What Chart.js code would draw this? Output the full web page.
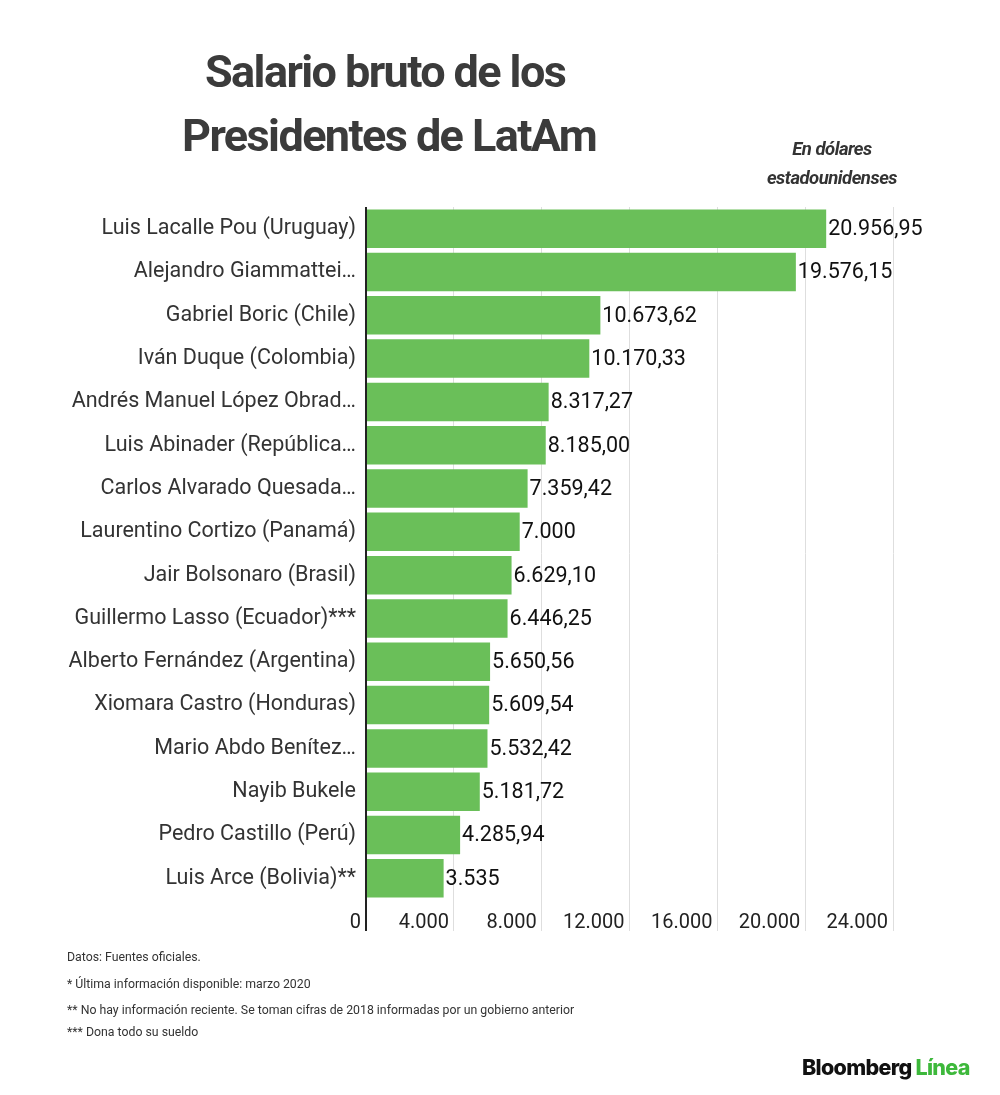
<!DOCTYPE html>
<html>
<head>
<meta charset="utf-8">
<script src="https://cdn.jsdelivr.net/npm/chart.js@4"></script>
<style>
  html, body { margin: 0; padding: 0; background: #fff; }
  body { width: 1000px; height: 1095px; position: relative; overflow: hidden; font-family: Roboto, sans-serif; }
  #wrap { position: absolute; left: 0; top: 0; width: 1000px; height: 1095px; }
  .title { position: absolute; color: #3b3b3b; font-weight: 700; font-size: 45px; letter-spacing: -1.6px; white-space: nowrap; }
  .sub { position: absolute; color: #333; font-weight: 700; font-style: italic; font-size: 18.5px; width: 220px; text-align: center; left: 722px; letter-spacing: -0.5px; }
  .note { position: absolute; left: 67px; color: #333; font-size: 12.3px; white-space: nowrap; }
  #logo { position: absolute; left: 802px; top: 1054px; font-family: Inter, sans-serif; font-weight: 800; font-size: 21.5px; letter-spacing: -0.7px; color: #111; white-space: nowrap; }
  #logo span { color: #3db83b; }
</style>
</head>
<body>
<div id="wrap"><canvas id="chart"></canvas></div>
<div class="title" style="left:205px; top:45px;">Salario bruto de los</div>
<div class="title" style="left:182px; top:109px;">Presidentes de LatAm</div>
<div class="sub" style="top:138px;">En dólares</div>
<div class="sub" style="top:167px;">estadounidenses</div>
<div class="note" style="top:950px;">Datos: Fuentes oficiales.</div>
<div class="note" style="top:977px;">* Última información disponible: marzo 2020</div>
<div class="note" style="top:1003px;">** No hay información reciente. Se toman cifras de 2018 informadas por un gobierno anterior</div>
<div class="note" style="top:1025px;">*** Dona todo su sueldo</div>
<div id="logo">Bloomberg <span>Línea</span></div>
<script>
// Data
const presidents = [
    'Luis Lacalle Pou (Uruguay)',
    'Alejandro Giammattei…',
    'Gabriel Boric (Chile)',
    'Iván Duque (Colombia)',
    'Andrés Manuel López Obrad…',
    'Luis Abinader (República…',
    'Carlos Alvarado Quesada…',
    'Laurentino Cortizo (Panamá)',
    'Jair Bolsonaro (Brasil)',
    'Guillermo Lasso (Ecuador)***',
    'Alberto Fernández (Argentina)',
    'Xiomara Castro (Honduras)',
    'Mario Abdo Benítez…',
    'Nayib Bukele',
    'Pedro Castillo (Perú)',
    'Luis Arce (Bolivia)**'
];
const salaries = [20956.95, 19576.15, 10673.62, 10170.33, 8317.27, 8185.00, 7359.42, 7000,
    6629.10, 6446.25, 5650.56, 5609.54, 5532.42, 5181.72, 4285.94, 3535];
const showDecimals = [true, true, true, true, true, true, true, false,
    true, true, true, true, true, true, true, false];
const axisMax = 24000;
const axisStep = 4000;

// Spanish number format: dot thousands, comma decimals
function fmt(v, decimals) {
    const parts = v.toFixed(decimals ? 2 : 0).split('.');
    const intPart = parts[0].replace(/\B(?=(\d{3})+(?!\d))/g, '.');
    return decimals ? intPart + ',' + parts[1] : intPart;
}

// Draw the value next to each bar
const valueLabels = {
    id: 'valueLabels',
    afterDatasetsDraw(chart) {
        const ctx = chart.ctx;
        const meta = chart.getDatasetMeta(0);
        ctx.save();
        ctx.font = '21.5px Roboto';
        ctx.fillStyle = '#111';
        ctx.textAlign = 'left';
        ctx.textBaseline = 'middle';
        meta.data.forEach((bar, i) => {
            ctx.fillText(fmt(salaries[i], showDecimals[i]), bar.x + 2, bar.y + 1);
        });
        ctx.restore();
    }
};

const ctxSalaries = document.getElementById('chart').getContext('2d');
const salariesChart = new Chart(ctxSalaries, {
    type: 'bar',
    data: {
        labels: presidents,
        datasets: [{
            data: salaries,
            backgroundColor: '#6abf59',
            borderWidth: 0,
            categoryPercentage: 1,
            barPercentage: 0.89
        }]
    },
    options: {
        indexAxis: 'y',
        responsive: true,
        maintainAspectRatio: false,
        animation: false,
        layout: { padding: { top: 207, right: 107, bottom: 150, left: 0 } },
        plugins: {
            legend: { display: false },
            tooltip: { enabled: false }
        },
        scales: {
            x: {
                min: 0,
                max: axisMax,
                border: { display: false },
                afterFit: s => { s.height = 45; },
                grid: {
                    color: c => c.tick && c.tick.value === 0 ? '#222' : '#dedede',
                    lineWidth: c => c.tick && c.tick.value === 0 ? 2 : 1,
                    tickLength: 31
                },
                ticks: {
                    stepSize: axisStep,
                    align: 'end',
                    padding: -20,
                    color: '#222',
                    font: { family: 'Roboto', size: 20 },
                    // trailing space keeps the label off the gridline
                    callback: v => fmt(v, false) + ' '
                }
            },
            y: {
                border: { display: false },
                grid: { display: false },
                afterFit: s => { s.width = 366; },
                ticks: {
                    padding: 2,
                    color: '#333',
                    font: { family: 'Roboto', size: 21.5 }
                }
            }
        }
    },
    plugins: [valueLabels]
});
</script>
</body>
</html>
